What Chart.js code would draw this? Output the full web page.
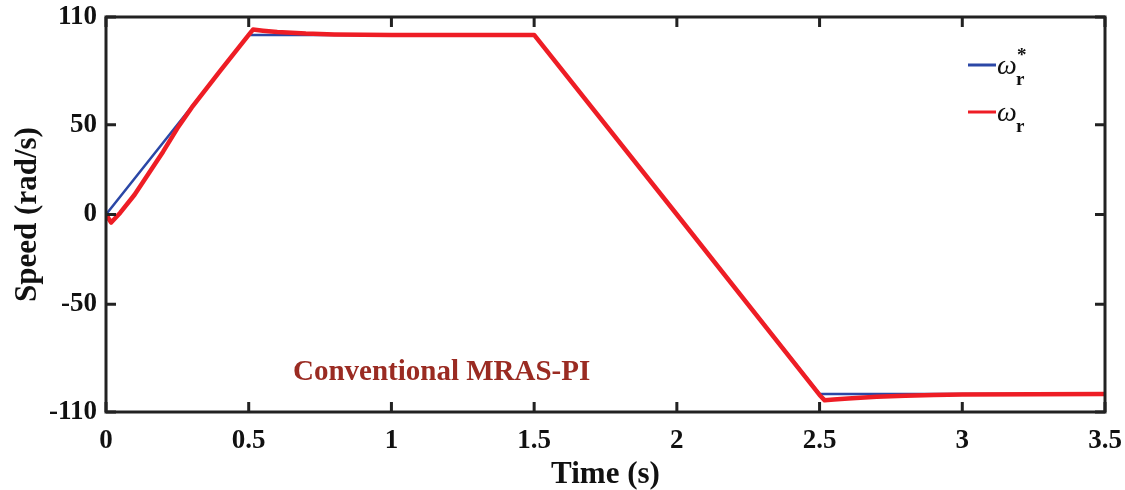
<!DOCTYPE html>
<html>
<head>
<meta charset="utf-8">
<script src="https://cdn.jsdelivr.net/npm/chart.js@4/dist/chart.umd.min.js"></script>
<style>
html,body{margin:0;padding:0;background:#fff;}
#wrap{width:1125px;height:490px;position:relative;}
</style>
</head>
<body>
<div id="wrap"><canvas id="c" width="1125" height="490"></canvas></div>
<script>
// Reference speed (omega_r*)
const refTime  = [0, 0.5, 1.5, 2.5, 3.5];
const refSpeed = [0, 100, 100, -100, -100];
// Estimated speed (omega_r), conventional MRAS-PI
const estTime  = [0, 0.018, 0.05, 0.1, 0.15, 0.2, 0.25, 0.3, 0.4, 0.5, 0.515, 0.55, 0.6, 0.7, 0.8, 0.9, 1.0, 1.5, 2.0, 2.5, 2.518, 2.55, 2.6, 2.7, 2.8, 2.9, 3.0, 3.5];
const estSpeed = [0, -4.5, 1, 11, 23, 35, 48, 59.5, 80, 100, 103, 102.4, 101.7, 100.8, 100.3, 100.1, 100, 100, 0, -100.5, -103.5, -103, -102.5, -101.5, -100.9, -100.5, -100.3, -100];
const xTicks = [0, 0.5, 1, 1.5, 2, 2.5, 3, 3.5];
const yTicks = [-110, -50, 0, 50, 110];
const seriesNames = ['ω', 'ω'];
const annotationText = 'Conventional MRAS-PI';
const xTitle = 'Time (s)';
const yTitle = 'Speed (rad/s)';

const toPts = (xs, ys) => xs.map((x, i) => ({x: x, y: ys[i]}));
const SERIF = '"Liberation Serif", "DejaVu Serif", serif';
const BLUE = '#2B47A6';
const RED = '#EE1D25';

const decor = {
  id: 'decor',
  afterDatasetsDraw(chart) {
    const ctx = chart.ctx;
    const a = chart.chartArea;
    const xs = chart.scales.x, ys = chart.scales.y;
    ctx.save();
    ctx.strokeStyle = '#222';
    ctx.lineWidth = 3;
    ctx.lineCap = 'square';
    ctx.strokeRect(a.left, a.top, a.right - a.left, a.bottom - a.top);
    const tl = 10;
    ctx.beginPath();
    xTicks.forEach(v => {
      const px = xs.getPixelForValue(v);
      ctx.moveTo(px, a.bottom); ctx.lineTo(px, a.bottom - tl);
      ctx.moveTo(px, a.top); ctx.lineTo(px, a.top + tl);
    });
    yTicks.forEach(v => {
      const py = ys.getPixelForValue(v);
      ctx.moveTo(a.left, py); ctx.lineTo(a.left + tl, py);
      ctx.moveTo(a.right, py); ctx.lineTo(a.right - tl, py);
    });
    ctx.lineCap = 'butt';
    ctx.stroke();

    // annotation
    ctx.fillStyle = '#9A2B22';
    ctx.font = 'bold 29px ' + SERIF;
    ctx.textAlign = 'left';
    ctx.textBaseline = 'middle';
    ctx.fillText(annotationText, 293, 373);

    // legend
    const items = [{c: BLUE, y: 65, star: true}, {c: RED, y: 112, star: false}];
    items.forEach((it, i) => {
      ctx.strokeStyle = it.c;
      ctx.lineWidth = 3;
      ctx.beginPath();
      ctx.moveTo(968, it.y); ctx.lineTo(996, it.y);
      ctx.stroke();
      ctx.fillStyle = '#111';
      ctx.font = 'italic 28px ' + SERIF;
      ctx.textBaseline = 'alphabetic';
      ctx.fillText(seriesNames[i], 997, it.y + 9);
      ctx.font = 'bold 19px ' + SERIF;
      ctx.fillText('r', 1016, it.y + 20);
      if (it.star) {
        ctx.font = 'bold 19px ' + SERIF;
        ctx.fillText('*', 1017, it.y - 4);
      }
    });
    ctx.restore();
  }
};

new Chart(document.getElementById('c'), {
  type: 'line',
  data: {
    datasets: [
      {label: 'ref', data: toPts(refTime, refSpeed), borderColor: BLUE, borderWidth: 2.5, pointRadius: 0, tension: 0, order: 1},
      {label: 'est', data: toPts(estTime, estSpeed), borderColor: RED, borderWidth: 4.5, pointRadius: 0, tension: 0, order: 0, borderJoinStyle: 'round'}
    ]
  },
  options: {
    responsive: false,
    animation: false,
    events: [],
    layout: {padding: {left: 0, right: 20, top: 17, bottom: 0}},
    plugins: {legend: {display: false}, tooltip: {enabled: false}},
    scales: {
      x: {
        type: 'linear', min: 0, max: 3.5,
        grid: {display: false, drawTicks: false},
        border: {display: false},
        afterBuildTicks: s => { s.ticks = xTicks.map(v => ({value: v})); },
        afterFit: s => { s.height = 78; s.paddingLeft = 0; s.paddingRight = 0; },
        ticks: {color: '#111', padding: 13, maxRotation: 0, autoSkip: false,
          font: {family: SERIF, size: 27, weight: 'bold'},
          callback: v => String(v)},
        title: {display: true, text: xTitle, color: '#111', padding: {top: 0, bottom: 0},
          font: {family: SERIF, size: 31, weight: 'bold', lineHeight: 1}}
      },
      y: {
        type: 'linear', min: -110, max: 110,
        grid: {display: false, drawTicks: false},
        border: {display: false},
        afterBuildTicks: s => { s.ticks = yTicks.map(v => ({value: v})); },
        afterFit: s => { s.width = 106; s.paddingTop = 0; s.paddingBottom = 0; },
        ticks: {color: '#111', padding: 9, autoSkip: false,
          font: {family: SERIF, size: 27, weight: 'bold'}},
        title: {display: true, text: yTitle, color: '#111', padding: {top: 12, bottom: 0},
          font: {family: SERIF, size: 31, weight: 'bold', lineHeight: 1}}
      }
    }
  },
  plugins: [decor]
});
</script>
</body>
</html>
